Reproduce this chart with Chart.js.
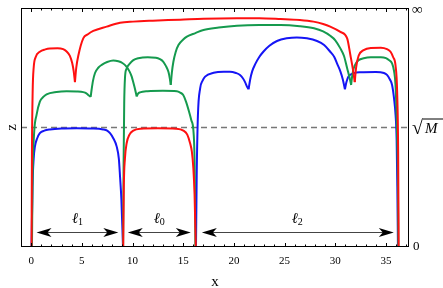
<!DOCTYPE html>
<html>
<head>
<meta charset="utf-8">
<script src="https://cdn.jsdelivr.net/npm/chart.js@4.4.1/dist/chart.umd.min.js"></script>
<style>
  html, body { margin: 0; padding: 0; background: #fff; }
  #wrap { width: 443px; height: 288px; }
</style>
</head>
<body>
<div id="wrap"><canvas id="chart" width="443" height="288"></canvas></div>
<script>
// x ticks and axis range
const xTicks = [0, 5, 10, 15, 20, 25, 30, 35];
const xMin = -1;
const xMax = 37.27;
const sqrtM = 0.5; // level of the dashed line (sqrt M), y axis runs 0..inf mapped to 0..1

// red branches, [x, z]
const redArcs = [
    [[0.04, 0], [0.08, 0.4], [0.15, 0.65], [0.25, 0.75], [0.45, 0.795], [0.86, 0.817], [1.4, 0.827], [1.85, 0.831], [2.6, 0.832], [3.16, 0.828], [3.5, 0.818], [3.82, 0.8], [4.05, 0.77], [4.2, 0.735], [4.32, 0.69]],
    [[4.32, 0.69], [4.45, 0.75], [4.65, 0.8], [5.14, 0.873], [5.6, 0.89], [6.13, 0.904], [7.45, 0.922], [8.77, 0.938], [10.05, 0.943], [12, 0.947], [14.7, 0.951], [17, 0.955], [20.3, 0.957], [22.5, 0.957], [24.6, 0.954], [26.5, 0.95], [27.85, 0.943], [28.8, 0.933], [29.5, 0.922], [30.5, 0.9], [31.17, 0.873], [31.5, 0.8], [31.75, 0.74], [31.92, 0.69]],
    [[31.92, 0.69], [32.05, 0.75], [32.3, 0.8], [32.8, 0.824], [33.5, 0.833], [34.5, 0.834], [35.1, 0.828], [35.45, 0.817], [35.7, 0.795], [35.94, 0.76], [36.1, 0.65], [36.2, 0.4], [36.25, 0]],
    [[9.08, 0], [9.14, 0.25], [9.25, 0.37], [9.42, 0.434], [9.7, 0.47], [10.08, 0.487], [10.8, 0.495], [12.5, 0.497], [14.3, 0.495], [15.02, 0.487], [15.4, 0.47], [15.68, 0.434], [15.85, 0.4], [16.0, 0.33], [16.12, 0.22], [16.24, 0]]
];

// green branches
const greenArcs = [
    [[0.08, 0], [0.15, 0.3], [0.3, 0.48], [0.53, 0.552], [0.86, 0.608], [1.2, 0.628], [1.52, 0.639], [2.5, 0.649], [3.5, 0.652], [4.5, 0.651], [5.14, 0.648], [5.45, 0.643], [5.63, 0.636], [5.87, 0.628]],
    [[5.87, 0.628], [5.97, 0.66], [6.1, 0.695], [6.3, 0.728], [6.62, 0.75], [7.0, 0.763], [7.5, 0.774], [8.1, 0.78], [8.6, 0.777], [9.0, 0.77], [9.4, 0.755], [9.7, 0.735], [9.92, 0.713], [10.1, 0.685], [10.25, 0.66], [10.41, 0.63]],
    [[10.41, 0.63], [10.55, 0.642], [10.74, 0.647], [11.5, 0.652], [13, 0.654], [14.37, 0.652], [14.7, 0.646], [15.0, 0.636], [15.3, 0.605], [15.55, 0.57], [15.8, 0.53], [16.0, 0.49], [16.1, 0.4], [16.17, 0.2], [16.2, 0]],
    [[9.07, 0], [9.12, 0.35], [9.18, 0.6], [9.26, 0.71], [9.4, 0.745], [9.75, 0.768], [10.08, 0.782], [10.57, 0.79], [11.5, 0.794], [12.3, 0.792], [12.7, 0.786], [13.04, 0.775], [13.3, 0.757], [13.54, 0.733], [13.68, 0.705], [13.77, 0.678]],
    [[13.77, 0.678], [13.88, 0.73], [14.03, 0.775], [14.25, 0.815], [14.53, 0.845], [15.0, 0.868], [15.36, 0.88], [16.2, 0.895], [17.0, 0.908], [18.5, 0.918], [20.3, 0.926], [22.5, 0.929], [24.6, 0.929], [26.5, 0.924], [27.9, 0.915], [28.8, 0.902], [29.5, 0.884], [30.0, 0.865], [30.5, 0.831], [30.85, 0.8], [31.17, 0.748], [31.4, 0.71], [31.56, 0.678]],
    [[31.56, 0.678], [31.68, 0.72], [31.82, 0.748], [32.05, 0.77], [32.3, 0.782], [32.8, 0.79], [33.5, 0.794], [34.5, 0.794], [35.0, 0.79], [35.28, 0.782], [35.6, 0.768], [35.8, 0.735], [35.94, 0.678], [36.08, 0.5], [36.17, 0.3], [36.22, 0]]
];

// blue branches
const blueArcs = [
    [[0.04, 0], [0.13, 0.25], [0.25, 0.37], [0.37, 0.42], [0.6, 0.455], [0.86, 0.476], [1.3, 0.487], [1.85, 0.492], [3, 0.496], [4.5, 0.497], [6, 0.496], [7.1, 0.492], [7.5, 0.487], [7.78, 0.476], [8.1, 0.455], [8.44, 0.42], [8.65, 0.37], [8.77, 0.294], [8.9, 0.2], [9.06, 0]],
    [[16.26, 0], [16.33, 0.3], [16.45, 0.55], [16.67, 0.664], [16.9, 0.695], [17.16, 0.713], [18.0, 0.729], [19.0, 0.733], [19.6, 0.733], [20.2, 0.728], [20.6, 0.72], [20.9, 0.705], [21.1, 0.69], [21.3, 0.67], [21.45, 0.66]],
    [[21.45, 0.66], [21.6, 0.7], [21.8, 0.735], [22.1, 0.765], [22.5, 0.795], [22.9, 0.817], [23.5, 0.842], [24.25, 0.862], [25.2, 0.873], [26.2, 0.877], [27.2, 0.873], [28.2, 0.862], [28.9, 0.845], [29.5, 0.817], [29.9, 0.795], [30.2, 0.765], [30.5, 0.735], [30.75, 0.7], [30.95, 0.66]],
    [[30.95, 0.66], [31.1, 0.69], [31.3, 0.713], [31.8, 0.727], [32.5, 0.731], [34, 0.732], [34.8, 0.728], [35.1, 0.72], [35.4, 0.7], [35.6, 0.678], [35.8, 0.62], [35.95, 0.55], [36.05, 0.45], [36.12, 0.25], [36.18, 0]]
];

// double arrows along the bottom: [from, to], subscript, where the label starts
const arrowSpans = [[0.53, 8.6], [9.53, 15.75], [16.84, 35.77]];
const arrowSubs = ['1', '0', '2'];
const arrowLabelX = [4.02, 12.1, 25.7];
const arrowLevel = 0.0615;

const SERIF = '"Liberation Serif", "DejaVu Serif", serif';

const toPoints = (arc) => arc.map(([x, y]) => ({ x: x, y: y }));

const arcDataset = (arc, color) => ({
    data: toPoints(arc),
    borderColor: color,
    borderWidth: 2,
    pointRadius: 0,
    showLine: true,
    fill: false,
    cubicInterpolationMode: 'monotone'
});

// first dataset is drawn on top, so red goes first
const datasets = [
    ...redArcs.map(a => arcDataset(a, '#ff1010')),
    ...greenArcs.map(a => arcDataset(a, '#159a4e')),
    ...blueArcs.map(a => arcDataset(a, '#1515f5')),
    {
        data: [{ x: xMin, y: sqrtM }, { x: xMax, y: sqrtM }],
        borderColor: '#777',
        borderWidth: 1.5,
        borderDash: [6, 4],
        pointRadius: 0,
        showLine: true,
        fill: false
    }
];

const arrowHead = (ctx, tip, yy, dir) => {
    ctx.beginPath();
    ctx.moveTo(tip, yy);
    ctx.lineTo(tip - dir * 15, yy - 4.5);
    ctx.lineTo(tip - dir * 11, yy);
    ctx.lineTo(tip - dir * 15, yy + 4.5);
    ctx.closePath();
    ctx.fill();
};

// frame, inward ticks, arrows and the right-hand labels
const decor = {
    id: 'decor',
    afterDatasetsDraw(chart) {
        const { ctx, chartArea: a, scales: { x, y } } = chart;
        ctx.save();
        ctx.strokeStyle = '#000';
        ctx.lineWidth = 1;
        ctx.strokeRect(a.left + 0.5, a.top + 0.5, a.right - a.left - 1, a.bottom - a.top - 1);

        ctx.beginPath();
        for (let v = Math.ceil(xMin); v <= xMax; v++) {
            const px = Math.round(x.getPixelForValue(v)) + 0.5;
            const len = v % 5 === 0 ? 4 : 2.5;
            ctx.moveTo(px, a.bottom);
            ctx.lineTo(px, a.bottom - len);
            ctx.moveTo(px, a.top);
            ctx.lineTo(px, a.top + len);
        }
        ctx.stroke();

        // arrows
        const ay = Math.round(y.getPixelForValue(arrowLevel)) + 0.5;
        arrowSpans.forEach(([from, to], i) => {
            const x1 = x.getPixelForValue(from);
            const x2 = x.getPixelForValue(to);
            ctx.strokeStyle = '#444';
            ctx.lineWidth = 1;
            ctx.beginPath();
            ctx.moveTo(x1 + 8, ay);
            ctx.lineTo(x2 - 8, ay);
            ctx.stroke();
            ctx.fillStyle = '#000';
            arrowHead(ctx, x1, ay, -1);
            arrowHead(ctx, x2, ay, 1);

            const lx = x.getPixelForValue(arrowLabelX[i]);
            ctx.textAlign = 'left';
            ctx.textBaseline = 'alphabetic';
            ctx.font = 'italic 15px ' + SERIF;
            ctx.fillText('\u2113', lx, ay - 10);
            ctx.font = '10px ' + SERIF;
            ctx.fillText(arrowSubs[i], lx + 6, ay - 8);
        });

        // right side labels
        ctx.fillStyle = '#000';
        ctx.textAlign = 'left';
        ctx.textBaseline = 'middle';
        ctx.font = '15px ' + SERIF;
        ctx.fillText('\u221e', a.right + 3, y.getPixelForValue(1) + 2);
        ctx.font = '13px ' + SERIF;
        ctx.fillText('0', a.right + 4, y.getPixelForValue(0));
        const my = y.getPixelForValue(sqrtM);
        ctx.font = '20px ' + SERIF;
        ctx.fillText('\u221a', a.right + 3, my + 1);
        ctx.font = 'italic 15px ' + SERIF;
        ctx.fillText('M', a.right + 16, my + 2);
        ctx.strokeStyle = '#000';
        ctx.lineWidth = 1;
        ctx.beginPath();
        ctx.moveTo(a.right + 14, my - 8.5);
        ctx.lineTo(443, my - 8.5);
        ctx.stroke();
        ctx.restore();
    }
};

const ctx = document.getElementById('chart').getContext('2d');
const chart = new Chart(ctx, {
    type: 'scatter',
    data: { datasets: datasets },
    plugins: [decor],
    options: {
        responsive: false,
        animation: false,
        layout: { padding: { top: 8, right: 34, left: 0, bottom: 0 } },
        plugins: {
            legend: { display: false },
            tooltip: { enabled: false }
        },
        scales: {
            x: {
                type: 'linear',
                min: xMin,
                max: xMax,
                afterBuildTicks: (s) => { s.ticks = xTicks.map(v => ({ value: v })); },
                afterFit: (s) => { s.height = 41; },
                grid: { display: false, drawTicks: false },
                border: { display: false },
                ticks: {
                    color: '#000',
                    padding: 8,
                    autoSkip: false,
                    maxRotation: 0,
                    font: { family: SERIF, size: 11 }
                },
                title: {
                    display: true,
                    text: 'x',
                    color: '#000',
                    padding: { top: 0, bottom: -3 },
                    font: { family: SERIF, size: 15 }
                }
            },
            y: {
                type: 'linear',
                min: 0,
                max: 1,
                afterFit: (s) => { s.width = 21; },
                grid: { display: false, drawTicks: false },
                border: { display: false },
                ticks: { display: false },
                title: {
                    display: true,
                    text: 'z',
                    color: '#000',
                    padding: { top: 3, bottom: 0 },
                    font: { family: SERIF, size: 15 }
                }
            }
        }
    }
});
</script>
</body>
</html>
